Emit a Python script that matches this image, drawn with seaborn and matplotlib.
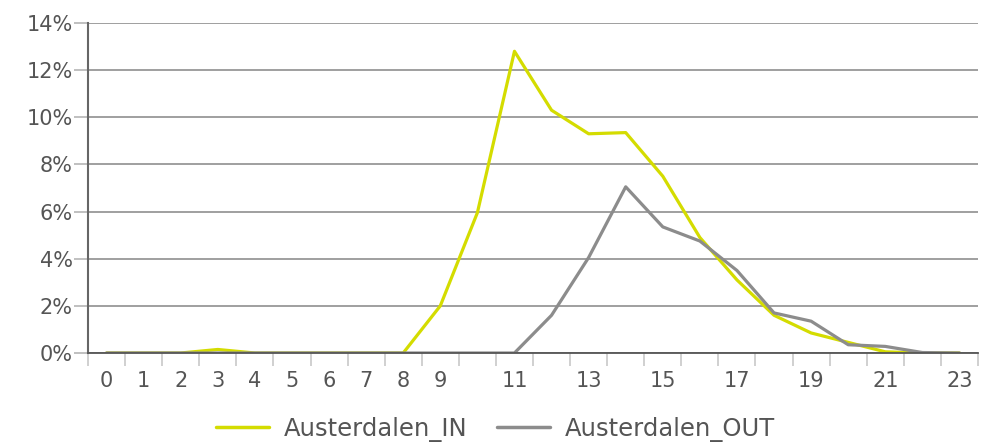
import matplotlib
matplotlib.use("Agg")
import matplotlib.pyplot as plt
import numpy as np
import pandas as pd
import seaborn as sns
from matplotlib.ticker import FuncFormatter

hours = list(range(24))
tick_labels = ['0', '1', '2', '3', '4', '5', '6', '7', '8', '9', '', '11', '',
               '13', '', '15', '', '17', '', '19', '', '21', '', '23']
austerdalen_in = [0.0, 0.0, 0.0, 0.15, 0.0, 0.0, 0.0, 0.0, 0.0, 2.0, 5.95, 12.8,
                  10.3, 9.3, 9.35, 7.5, 4.9, 3.1, 1.6, 0.85, 0.45, 0.05, 0.0, 0.0]
austerdalen_out = [0.0, 0.0, 0.0, 0.0, 0.0, 0.0, 0.0, 0.0, 0.0, 0.0, 0.0, 0.0,
                   1.6, 4.05, 7.05, 5.35, 4.75, 3.5, 1.7, 1.35, 0.35, 0.28, 0.02, 0.0]

df = pd.concat([
    pd.DataFrame({'hour': hours, 'share': austerdalen_in, 'series': 'Austerdalen_IN'}),
    pd.DataFrame({'hour': hours, 'share': austerdalen_out, 'series': 'Austerdalen_OUT'}),
])

sns.set_style("white")
plt.rcParams['font.family'] = ['DejaVu Sans']

fig = plt.figure(figsize=(9.91, 4.48), dpi=100)
ax = fig.add_axes([88 / 991, (448 - 353) / 448, (978 - 88) / 991, (353 - 23) / 448])

palette = {'Austerdalen_IN': '#d4dc00', 'Austerdalen_OUT': '#8c8c8c'}
sns.lineplot(data=df, x='hour', y='share', hue='series', palette=palette,
             linewidth=2.3, ax=ax, legend=False)

ax.set_xlim(-0.5, 23.5)
ax.set_ylim(0, 14)
ax.set_yticks(np.arange(0, 15, 2))
ax.yaxis.set_major_formatter(FuncFormatter(lambda v, p: f'{v:.0f}%'))
ax.yaxis.grid(True, color='#8f8f8f', linewidth=1.2)
ax.set_axisbelow(True)
ax.tick_params(axis='y', left=True, length=10, width=1.2, color='#b5b5b5', labelsize=15,
               labelcolor='#555555', pad=1)

ax.set_xticks(hours)
ax.set_xticklabels(tick_labels)
ax.set_xticks(np.arange(-0.5, 24, 1), minor=True)
ax.tick_params(axis='x', which='major', bottom=True, length=0, labelsize=15,
               labelcolor='#555555', pad=13)
ax.tick_params(axis='x', which='minor', bottom=True, length=9, width=1.2,
               color='#c8c8c8', direction='out')

for side in ['top', 'right']:
    ax.spines[side].set_visible(False)
ax.spines['left'].set_color('#666666')
ax.spines['left'].set_linewidth(1.5)
ax.spines['bottom'].set_color('#555555')
ax.spines['bottom'].set_linewidth(1.3)
ax.set_xlabel('')
ax.set_ylabel('')

handles = [plt.Line2D([], [], color=palette[s], linewidth=2.5) for s in palette]
fig.legend(handles, list(palette), loc='lower center', bbox_to_anchor=(0.5, -0.035),
           ncol=2, frameon=False, fontsize=17.5, handlelength=2.2, handletextpad=0.6,
           columnspacing=1.2, labelcolor='#555555')

fig.savefig('out.png', dpi=100)
